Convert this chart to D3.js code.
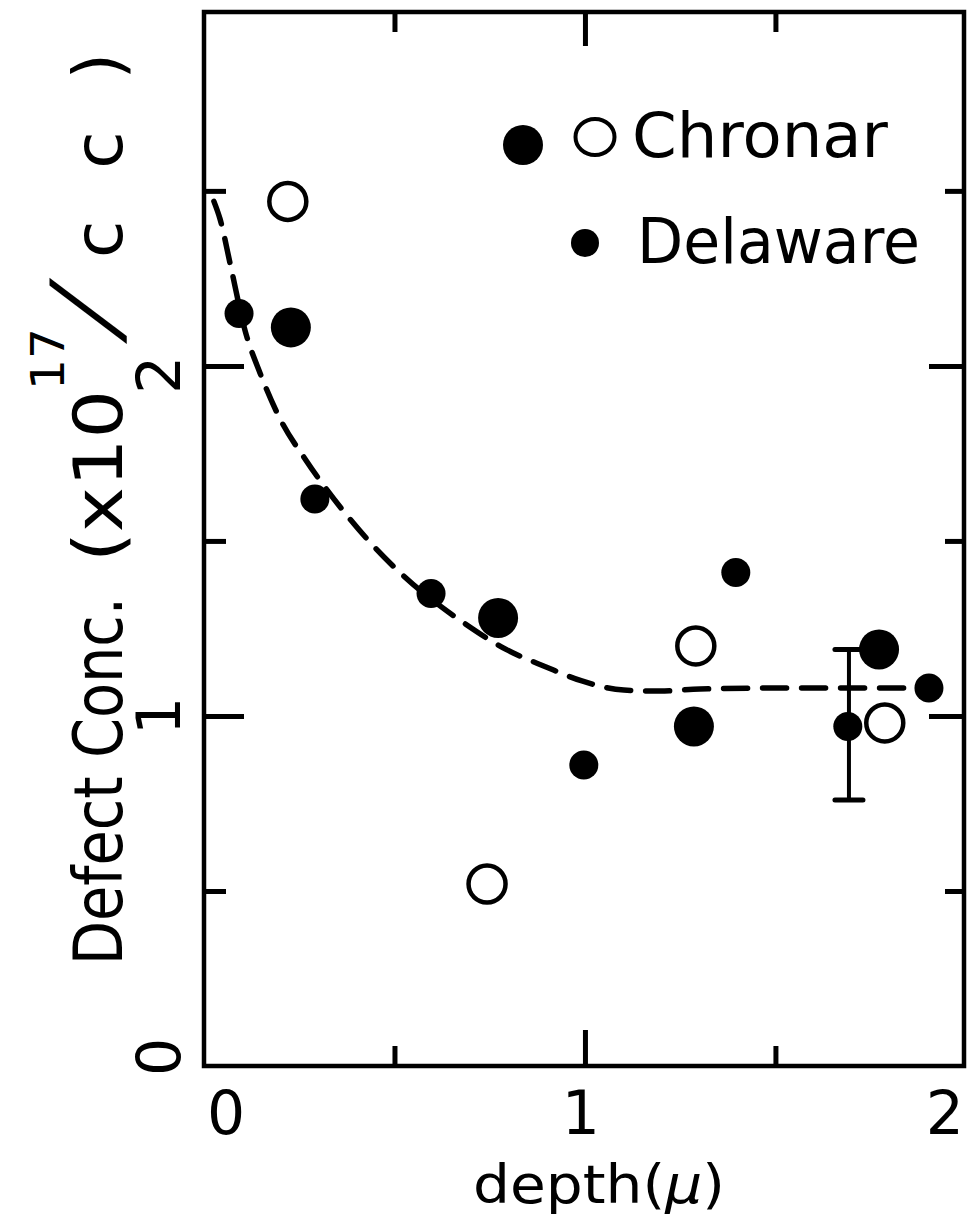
<!DOCTYPE html>
<html>
<head>
<meta charset="utf-8">
<script src="https://cdn.jsdelivr.net/npm/d3@7"></script>
<style>
  html, body { margin: 0; padding: 0; background: #fff; }
  svg { display: block; }
  text { font-family: "DejaVu Sans", sans-serif; fill: #000; }
</style>
</head>
<body>
<div id="chart"></div>
<script>
// values: depth in microns, conc in 1e17 / cc
const chronarFilled = [
  { depth: 0.228, conc: 2.11 },
  { depth: 0.772, conc: 1.28 },
  { depth: 1.286, conc: 0.97 },
  { depth: 1.772, conc: 1.19 }
];
const chronarOpen = [
  { depth: 0.220, conc: 2.47 },
  { depth: 0.743, conc: 0.52 },
  { depth: 1.291, conc: 1.20 },
  { depth: 1.787, conc: 0.98 }
];
const delaware = [
  { depth: 0.092, conc: 2.15 },
  { depth: 0.291, conc: 1.62 },
  { depth: 0.596, conc: 1.35 },
  { depth: 0.997, conc: 0.86 },
  { depth: 1.396, conc: 1.41 },
  { depth: 1.690, conc: 0.97 },
  { depth: 1.903, conc: 1.08 }
];
const errorBars = [
  { depth: 1.693, low: 0.76, high: 1.19 }
];
// dashed guide line
const fitCurve = [
  [0.026, 2.47], [0.042, 2.42], [0.071, 2.28], [0.108, 2.10], [0.147, 1.98],
  [0.199, 1.85], [0.268, 1.73], [0.370, 1.58], [0.441, 1.49], [0.514, 1.41],
  [0.690, 1.26], [0.793, 1.19], [0.898, 1.14], [0.992, 1.10], [1.102, 1.074],
  [1.197, 1.071], [1.302, 1.077], [1.564, 1.08], [1.840, 1.08]
];
const xMajor = [1];
const xMinor = [0.5, 1.5];
const xLabels = [0, 1, 2];
const yMajor = [1, 2];
const yMinor = [0.5, 1.5, 2.5];
const yLabels = [0, 1, 2];
const legendItems = ["Chronar", "Delaware"];

const width = 968;
const height = 1226;
const frame = { left: 204, right: 964, top: 12, bottom: 1066 };

const x = d3.scaleLinear()
  .domain([0, 1.995])
  .range([frame.left, frame.right]);

const y = d3.scaleLinear()
  .domain([0, 3.011])
  .range([frame.bottom, frame.top]);

const svg = d3.select("#chart").append("svg")
  .attr("width", width)
  .attr("height", height)
  .attr("viewBox", `0 0 ${width} ${height}`);

svg.append("rect")
  .attr("width", width).attr("height", height)
  .attr("fill", "#fff");

// ticks on all four sides, pointing inwards
function ticks(axisFn, values, size, transform) {
  svg.append("g")
    .attr("transform", transform)
    .call(axisFn.tickValues(values).tickSize(size).tickFormat(""))
    .call(g => g.select(".domain").remove())
    .call(g => g.selectAll("line").attr("stroke", "#000").attr("stroke-width", 5));
}
ticks(d3.axisTop(x), xMajor, 36, `translate(0,${frame.bottom})`);
ticks(d3.axisTop(x), xMinor, 20, `translate(0,${frame.bottom})`);
ticks(d3.axisBottom(x), xMajor, 34, `translate(0,${frame.top})`);
ticks(d3.axisBottom(x), xMinor, 20, `translate(0,${frame.top})`);
ticks(d3.axisRight(y), yMajor, 40, `translate(${frame.left},0)`);
ticks(d3.axisRight(y), yMinor, 22, `translate(${frame.left},0)`);
ticks(d3.axisLeft(y), yMajor, 35, `translate(${frame.right},0)`);
ticks(d3.axisLeft(y), yMinor, 19, `translate(${frame.right},0)`);

svg.append("rect")
  .attr("x", frame.left).attr("y", frame.top)
  .attr("width", frame.right - frame.left)
  .attr("height", frame.bottom - frame.top)
  .attr("fill", "none")
  .attr("stroke", "#000")
  .attr("stroke-width", 4.5);

// x tick labels
svg.append("g")
  .selectAll("text")
  .data(xLabels)
  .join("text")
  .attr("x", (d, i) => x(d) + (i === 0 ? 3 : i === xLabels.length - 1 ? -2 : -4))
  .attr("y", 1134)
  .attr("font-size", 60)
  .attr("text-anchor", (d, i) => i === 0 ? "start" : i === xLabels.length - 1 ? "end" : "middle")
  .text(d => d);

// y tick labels, turned like the axis title
svg.append("g")
  .selectAll("text")
  .data(yLabels)
  .join("text")
  .attr("transform", (d, i) => `translate(180,${y(d) + (i - 1) * 9}) rotate(-90)`)
  .attr("font-size", 60)
  .attr("text-anchor", "middle")
  .text(d => d);

// x axis title
svg.append("text")
  .attr("x", 473)
  .attr("y", 1203)
  .attr("font-size", 54)
  .attr("textLength", 252)
  .attr("lengthAdjust", "spacingAndGlyphs")
  .call(t => {
    t.append("tspan").text("depth(");
    t.append("tspan").attr("font-style", "italic").text("\u03bc");
    t.append("tspan").text(")");
  });

// y axis title in pieces so the spacing follows the lettering
const yTitle = svg.append("g");
yTitle.append("text")
  .attr("transform", "translate(122,965) rotate(-90)")
  .attr("font-size", 68)
  .attr("textLength", 368)
  .attr("lengthAdjust", "spacingAndGlyphs")
  .text("Defect Conc.");
yTitle.append("text")
  .attr("transform", "translate(122,562) rotate(-90)")
  .attr("font-size", 68)
  .attr("textLength", 172)
  .attr("lengthAdjust", "spacingAndGlyphs")
  .text("(x10");
yTitle.append("text")
  .attr("transform", "translate(64,390) rotate(-90)")
  .attr("font-size", 46)
  .attr("textLength", 62)
  .attr("lengthAdjust", "spacingAndGlyphs")
  .text("17");
yTitle.append("text")
  .attr("transform", "translate(118,340) rotate(-90) skewX(-24)")
  .attr("font-size", 94)
  .text("/");
yTitle.append("text")
  .attr("transform", "translate(122,258) rotate(-90)")
  .attr("font-size", 68)
  .attr("textLength", 205)
  .attr("lengthAdjust", "spacing")
  .text("cc)");

// dashed line
const line = d3.line()
  .x(d => x(d[0]))
  .y(d => y(d[1]))
  .curve(d3.curveMonotoneX);

svg.append("path")
  .datum(fitCurve)
  .attr("d", line)
  .attr("fill", "none")
  .attr("stroke", "#000")
  .attr("stroke-width", 5.5)
  .attr("stroke-linecap", "round")
  .attr("stroke-dasharray", "24,15");

// error bar
const eb = svg.append("g")
  .attr("stroke", "#000")
  .selectAll("g")
  .data(errorBars)
  .join("g");
eb.append("line")
  .attr("x1", d => x(d.depth)).attr("x2", d => x(d.depth))
  .attr("y1", d => y(d.high)).attr("y2", d => y(d.low))
  .attr("stroke-width", 4);
eb.selectAll(".cap")
  .data(d => [[d.depth, d.high], [d.depth, d.low]])
  .join("line")
  .attr("class", "cap")
  .attr("x1", d => x(d[0]) - 14).attr("x2", d => x(d[0]) + 14)
  .attr("y1", d => y(d[1])).attr("y2", d => y(d[1]))
  .attr("stroke-width", 5)
  .attr("stroke-linecap", "round");

// points
svg.append("g")
  .selectAll("circle")
  .data(chronarFilled)
  .join("circle")
  .attr("cx", d => x(d.depth))
  .attr("cy", d => y(d.conc))
  .attr("r", 20)
  .attr("fill", "#000");

svg.append("g")
  .selectAll("circle")
  .data(chronarOpen)
  .join("circle")
  .attr("cx", d => x(d.depth))
  .attr("cy", d => y(d.conc))
  .attr("r", 18.5)
  .attr("fill", "#fff")
  .attr("stroke", "#000")
  .attr("stroke-width", 4.5);

svg.append("g")
  .selectAll("circle")
  .data(delaware)
  .join("circle")
  .attr("cx", d => x(d.depth))
  .attr("cy", d => y(d.conc))
  .attr("r", 14.5)
  .attr("fill", "#000");

// legend
const legend = svg.append("g");
legend.append("circle").attr("cx", 523).attr("cy", 145).attr("r", 20).attr("fill", "#000");
legend.append("ellipse").attr("cx", 595).attr("cy", 137).attr("rx", 19.5).attr("ry", 18)
  .attr("fill", "none").attr("stroke", "#000").attr("stroke-width", 4);
legend.append("circle").attr("cx", 585).attr("cy", 243).attr("r", 14).attr("fill", "#000");
legend.selectAll("text.item")
  .data(legendItems)
  .join("text")
  .attr("class", "item")
  .attr("x", (d, i) => i === 0 ? 632 : 637)
  .attr("y", (d, i) => i === 0 ? 157 : 263)
  .attr("font-size", 62)
  .attr("textLength", (d, i) => i === 0 ? 256 : 283)
  .attr("lengthAdjust", "spacingAndGlyphs")
  .text(d => d);
</script>
</body>
</html>
